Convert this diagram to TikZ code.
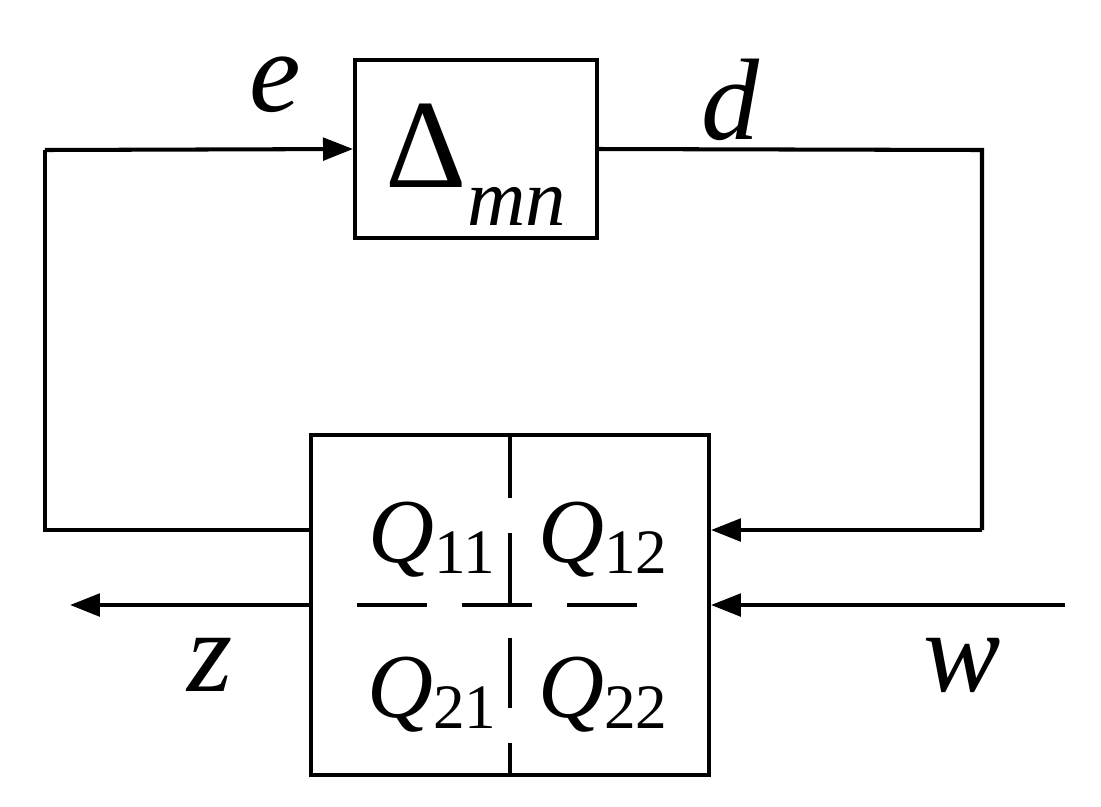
\documentclass[tikz,border=0pt]{standalone}
\usepackage{fontspec}
\setmainfont{Liberation Serif}
\usetikzlibrary{arrows.meta}
\begin{document}
\begin{tikzpicture}[x=0.02cm,y=-0.02cm,line width=2.3pt,
  arr/.style={-{Triangle[length=0.6cm,width=0.45cm]}},
  box/.style={draw,inner sep=0pt},
  lab/.style={font=\fontsize{66}{70}\selectfont\itshape},
  q/.style={font=\fontsize{52}{56}\selectfont}]
\useasboundingbox (0,0) rectangle (1101,806);
\node[box,minimum width=4.84cm,minimum height=3.56cm] (D) at (476,149) {};
\node[font=\fontsize{72}{76}\selectfont] at (476,165) {Δ\raisebox{-0.3em}{\fontsize{46}{50}\selectfont\itshape mn}};
\node[box,minimum width=7.96cm,minimum height=6.8cm] (Q) at (510,605) {};
\coordinate (tl) at (45,150); \coordinate (bl) at (45,530);
\coordinate (tr) at (982,150); \coordinate (br) at (982,530);
\coordinate (zend) at (70,605); \coordinate (wst) at (1065,605);
\draw[arr] (tl) -- (D.west);
\draw (D.east) -- (tr) -- (br);
\draw[arr] (br) -- (Q.east|-br);
\draw (Q.west|-bl) -- (bl) -- (tl);
\draw[arr] (Q.west|-zend) -- (zend);
\draw[arr] (wst) -- (Q.east|-wst);
\draw[dash pattern=on 1.4cm off 0.7cm,dash phase=0.1cm] (Q.north) -- (Q.south);
\draw[dash pattern=on 1.4cm off 0.7cm] (357,605) -- (637,605);
\node[lab] (e) at (275,85) {e};
\node[lab] (d) at (730,100) {d};
\node[lab] (z) at (210,665) {z};
\node[lab] (w) at (962,665) {w};
\node[q] at (432,540) {\textit{Q}\raisebox{-0.12em}{\fontsize{36}{40}\selectfont 11}};
\node[q] at (603,540) {\textit{Q}\raisebox{-0.12em}{\fontsize{36}{40}\selectfont 12}};
\node[q] at (432,695) {\textit{Q}\raisebox{-0.12em}{\fontsize{36}{40}\selectfont 21}};
\node[q] at (603,695) {\textit{Q}\raisebox{-0.12em}{\fontsize{36}{40}\selectfont 22}};
\end{tikzpicture}
\end{document}
